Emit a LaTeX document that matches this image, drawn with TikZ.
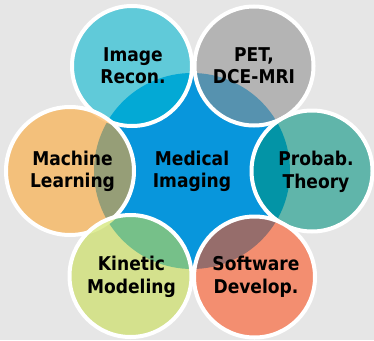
\documentclass[tikz,border=0pt]{standalone}
\usepackage{fontspec}
\setmainfont{DejaVu Sans Condensed}
\definecolor{bggray}{RGB}{230,230,230}
\definecolor{cblue}{RGB}{8,150,220}
\definecolor{crecon}{RGB}{0,183,209}
\definecolor{cpet}{RGB}{144,144,144}
\definecolor{cprob}{RGB}{0,147,128}
\definecolor{cml}{RGB}{254,165,47}
\definecolor{ckin}{RGB}{199,223,78}
\definecolor{csoft}{RGB}{254,80,27}
\tikzset{
  bubble/.style={fill=#1, fill opacity=0.58, draw=white, draw opacity=1, line width=4pt},
  lbl/.style={font=\fontsize{19}{22.7}\selectfont\bfseries, text=black, align=center, anchor=base, inner sep=0pt}
}
\begin{document}
\begin{tikzpicture}[x=1pt,y=-1pt]
\fill[bggray] (0,0) rectangle (374,340);
\useasboundingbox (0,0) rectangle (374,340);
\fill[cblue] (192,171) circle (98);
\draw[bubble=crecon] (132,66) circle (60);
\draw[bubble=cpet] (254,66) circle (59.5);
\draw[bubble=cprob] (312,171) circle (60.5);
\draw[bubble=cml] (70,171) circle (64);
\draw[bubble=ckin] (130.5,276) circle (61);
\draw[bubble=csoft] (254.5,277) circle (60.5);
\node[lbl] (med) at (192,187.7) {Medical\\Imaging};
\node[lbl] (ml) at (72.5,187.7) {Machine\\Learning};
\node[lbl] (rec) at (133,83.7) {Image\\Recon.};
\node[lbl] (pet) at (254,83.7) {PET,\\DCE-MRI};
\node[lbl] (prob) at (316,188.2) {Probab.\\Theory};
\node[lbl] (kin) at (131.5,293.4) {Kinetic\\Modeling};
\node[lbl] (soft) at (256,293.4) {Software\\Develop.};
\end{tikzpicture}
\end{document}
